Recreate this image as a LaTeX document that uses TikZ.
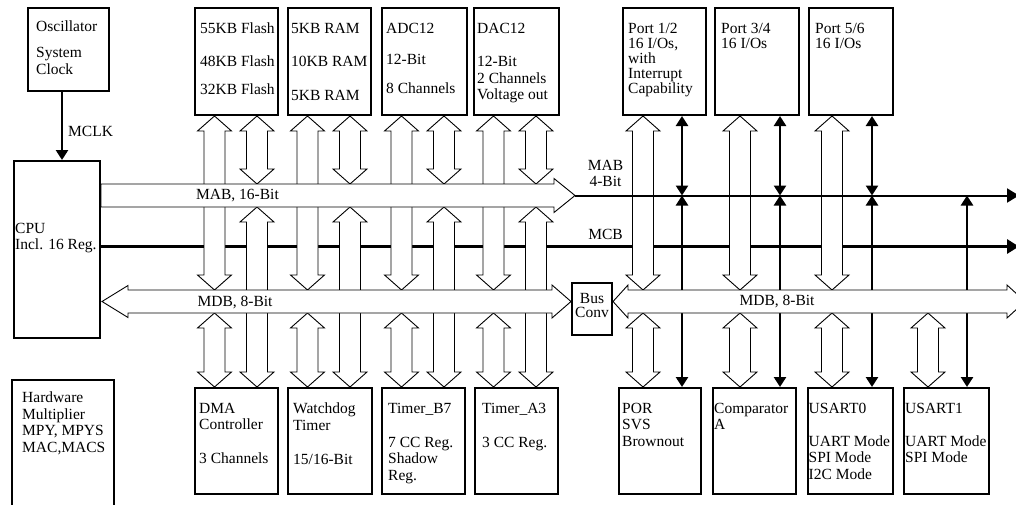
\documentclass[tikz,border=0pt]{standalone}
\usepackage{fontspec}
\setmainfont{Liberation Serif}
\usetikzlibrary{arrows.meta,calc}

% wide hollow bus arrow, heads at both ends (x from #1, y from #1 and #2)
\newcommand{\vhollow}[2]{%
  \draw[hollow] let \p1=#1, \p2=#2 in
    (\x1,\y1) -- (\x1+17pt,\y1-15pt) -- (\x1+10.5pt,\y1-15pt)
    -- (\x1+10.5pt,\y2+15pt) -- (\x1+17pt,\y2+15pt) -- (\x1,\y2)
    -- (\x1-17pt,\y2+15pt) -- (\x1-10.5pt,\y2+15pt)
    -- (\x1-10.5pt,\y1-15pt) -- (\x1-17pt,\y1-15pt) -- cycle;}

\begin{document}
\begin{tikzpicture}[x=1pt, y=-1pt]
        \tikzstyle{block} = [draw, line width=2pt, inner sep=0pt, anchor=north west]
        \tikzstyle{topbox} = [block, minimum width=83pt, minimum height=107pt]
        \tikzstyle{botbox} = [block, minimum width=83pt, minimum height=106pt]
        \tikzstyle{txt} = [anchor=north west, inner sep=0pt, align=left, font=\fontsize{15.5}{16.5}\selectfont]
        \tikzstyle{porttxt} = [txt, font=\fontsize{15.5}{15}\selectfont]
        \tikzstyle{lbl} = [inner sep=0pt, font=\fontsize{15.5}{16.5}\selectfont]
        \tikzstyle{hollow} = [draw, fill=white, line width=0.9pt, line join=miter]
        \tikzstyle{sig} = [line width=2.8pt, >={Triangle[length=10pt,width=12pt]}]

        \useasboundingbox (0,0) rectangle (1016,504);
        \clip (0,0) rectangle (1016,504);

        % blocks
        \node (osc) [block, minimum width=81pt, minimum height=83pt] at (27,7) {};
        \node (cpu) [block, minimum width=86pt, minimum height=177pt] at (13,160) {};
        \node (hw) [block, minimum width=102pt, minimum height=140pt] at (11,379) {};
        \node (flash) [topbox] at (194,7) {};
        \node (ram) [topbox] at (287,7) {};
        \node (adc) [topbox, minimum width=85pt] at (381,7) {};
        \node (dac) [topbox, minimum width=85pt] at (473,7) {};
        \node (portA) [topbox] at (622,7) {};
        \node (portB) [topbox, minimum width=84pt] at (714,7) {};
        \node (portC) [topbox, minimum width=84pt] at (808,7) {};
        \node (dma) [botbox] at (194,387) {};
        \node (wdt) [botbox, minimum width=84pt] at (287,387) {};
        \node (tb7) [botbox] at (381,387) {};
        \node (ta3) [botbox] at (474,387) {};
        \node (por) [botbox, minimum width=82pt] at (618,387) {};
        \node (comp) [botbox] at (712,387) {};
        \node (usart0) [botbox, minimum width=85pt] at (807,387) {};
        \node (usart1) [botbox, minimum width=85pt] at (903,387) {};
        \node (busconv) [block, minimum width=40pt, minimum height=52pt] at (571,282) {};

        % bus levels
        \coordinate (mabT) at (0,184);
        \coordinate (mabB) at (0,207);
        \coordinate (mab4) at (0,195.5);
        \coordinate (mcb) at (0,246.5);
        \coordinate (mdbC) at (0,301.5);
        \coordinate (mdbT) at (0,290);
        \coordinate (mdbB) at (0,313);
        \coordinate (mabTip) at (575,195.5);
        \coordinate (rimA) at (1019,195.5);
        \coordinate (rimC) at (1019,246.5);
        \coordinate (rimD) at (1025,301.5);

        \draw[sig, ->] ([xshift=-6.5pt]osc.south) -- ([xshift=-6.5pt]osc.south |- cpu.north);
        \draw[line width=3.2pt, -{Triangle[length=12pt,width=14pt]}] (cpu.east |- mcb) -- (rimC);

        % memory and peripheral buses
        \foreach \up/\dn in {flash/dma, ram/wdt, adc/tb7, dac/ta3} {
          \vhollow{([xshift=20.5pt]\up.south west)}{(mdbT)}
          \vhollow{([xshift=63pt]\up.south west)}{(mabT)}
          \vhollow{([xshift=20.5pt]\up.south west |- mdbB)}{(\dn.north)}
          \vhollow{([xshift=63pt]\up.south west |- mabB)}{(\dn.north)}
        }
        \vhollow{([xshift=21pt]portA.south west)}{(mdbT)}
        \vhollow{([xshift=26pt]portB.south west)}{(mdbT)}
        \vhollow{([xshift=24pt]portC.south west)}{(mdbT)}
        \vhollow{([xshift=21pt]portA.south west |- mdbB)}{(por.north)}
        \vhollow{([xshift=26pt]portB.south west |- mdbB)}{(comp.north)}
        \vhollow{([xshift=24pt]portC.south west |- mdbB)}{(usart0.north)}
        \vhollow{([xshift=25pt]usart1.north west |- mdbB)}{(usart1.north)}

        \draw[sig, <->] ([xshift=60pt]portA.south west) -- ([xshift=60pt]portA.south west |- mab4);
        \draw[sig, <->] ([xshift=60pt]portA.south west |- mab4) -- ([xshift=60pt]portA.south west |- por.north);
        \draw[sig, <->] ([xshift=66pt]portB.south west) -- ([xshift=66pt]portB.south west |- mab4);
        \draw[sig, <->] ([xshift=66pt]portB.south west |- mab4) -- ([xshift=66pt]portB.south west |- comp.north);
        \draw[sig, <->] ([xshift=64pt]portC.south west) -- ([xshift=64pt]portC.south west |- mab4);
        \draw[sig, <->] ([xshift=64pt]portC.south west |- mab4) -- ([xshift=64pt]portC.south west |- usart0.north);
        \draw[sig, <->] ([xshift=64pt]usart1.north west |- mab4) -- ([xshift=64pt]usart1.north west);

        \draw[line width=2pt, -{Triangle[length=12pt,width=14pt]}] (mabTip) -- (rimA);

        % MAB, MDB
        \draw[hollow] let \p1=(cpu.east), \p2=(mabTip) in
          (\x1,\y2+11.5pt) -- (\x2-21pt,\y2+11.5pt) -- (\x2-21pt,\y2+17pt) -- (\p2)
          -- (\x2-21pt,\y2-17pt) -- (\x2-21pt,\y2-11.5pt) -- (\x1,\y2-11.5pt) -- cycle;
        \draw[hollow] let \p1=(cpu.east), \p2=(busconv.west), \p3=(mdbC) in
          (\x1+1pt,\y3) -- (\x1+27pt,\y3+16pt) -- (\x1+27pt,\y3+11.5pt)
          -- (\x2-19pt,\y3+11.5pt) -- (\x2-19pt,\y3+16.5pt) -- (\x2,\y3)
          -- (\x2-19pt,\y3-16.5pt) -- (\x2-19pt,\y3-11.5pt)
          -- (\x1+27pt,\y3-11.5pt) -- (\x1+27pt,\y3-16pt) -- cycle;
        \draw[hollow] let \p1=(busconv.east), \p2=(rimD), \p3=(mdbC) in
          (\x1,\y3) -- (\x1+15pt,\y3+16.5pt) -- (\x1+15pt,\y3+11.5pt)
          -- (\x2-18pt,\y3+11.5pt) -- (\x2-18pt,\y3+16.5pt) -- (\x2,\y3)
          -- (\x2-18pt,\y3-16.5pt) -- (\x2-18pt,\y3-11.5pt)
          -- (\x1+15pt,\y3-11.5pt) -- (\x1+15pt,\y3-16.5pt) -- cycle;

        % bus labels
        \node (mclkLbl) [lbl, anchor=base west] at (68,136) {MCLK};
        \node (mabLbl) [lbl, anchor=base] at (237.5,199.5) {MAB, 16-Bit};
        \node (mdbLbl) [lbl, anchor=base] at (235,306) {MDB, 8-Bit};
        \node (mdbLblR) [lbl, anchor=base] at (777,305.5) {MDB, 8-Bit};
        \node (mab4Lbl) [lbl, anchor=north, align=center] at (605.5,160) {MAB\\4-Bit};
        \node (mcbLbl) [lbl, anchor=base] at (605.5,239.5) {MCB};
        \node (convLbl) [lbl, anchor=north, align=center, font=\fontsize{15.5}{14}\selectfont] at ([yshift=-11pt]busconv.north) {Bus\\Conv};

        % block texts
        \node (oscTxt) [txt] at ([shift={(9,13.7)}]osc.north west) {Oscillator\\[9.5pt]System\\Clock};
        \node (cpuTxt) [txt] at ([shift={(2,63)}]cpu.north west) {CPU\\Incl. 16 Reg.};
        \node (hwTxt) [txt] at ([shift={(11,12.7)}]hw.north west) {Hardware\\Multiplier\\MPY, MPYS\\MAC,MACS};
        \node (flashTxt) [txt] at ([shift={(6,15.7)}]flash.north west) {55KB Flash\\[15.9pt]48KB Flash\\[11.8pt]32KB Flash};
        \node (ramTxt) [txt] at ([shift={(4,15.7)}]ram.north west) {5KB RAM\\[17.2pt]10KB RAM\\[17.2pt]5KB RAM};
        \node (adcTxt) [txt] at ([shift={(5,15.7)}]adc.north west) {ADC12\\[15.2pt]12-Bit\\[12.5pt]8 Channels};
        \node (dacTxt) [txt] at ([shift={(4,15.7)}]dac.north west) {DAC12\\[17pt]12-Bit\\2 Channels\\Voltage out};
        \node (portATxt) [porttxt] at ([shift={(6,16)}]portA.north west) {Port 1/2\\16 I/Os,\\with\\Interrupt\\Capability};
        \node (portBTxt) [porttxt] at ([shift={(7,16)}]portB.north west) {Port 3/4\\16 I/Os};
        \node (portCTxt) [porttxt] at ([shift={(7,16)}]portC.north west) {Port 5/6\\16 I/Os};
        \node (dmaTxt) [txt] at ([shift={(5,15.7)}]dma.north west) {DMA\\Controller\\[17.5pt]3 Channels};
        \node (wdtTxt) [txt] at ([shift={(6,15.7)}]wdt.north west) {Watchdog\\Timer\\[17.5pt]15/16-Bit};
        \node (tb7Txt) [txt] at ([shift={(7,15.7)}]tb7.north west) {Timer\_B7\\[17.5pt]7 CC Reg.\\Shadow\\Reg.};
        \node (ta3Txt) [txt] at ([shift={(8,15.7)}]ta3.north west) {Timer\_A3\\[17.5pt]3 CC Reg.};
        \node (porTxt) [txt] at ([shift={(4,15.7)}]por.north west) {POR\\SVS\\Brownout};
        \node (compTxt) [txt] at ([shift={(2,15.7)}]comp.north west) {Comparator\\A};
        \node (usart0Txt) [txt] at ([shift={(1.5,15.7)}]usart0.north west) {USART0\\[16.5pt]UART Mode\\SPI Mode\\I2C Mode};
        \node (usart1Txt) [txt] at ([shift={(2,15.7)}]usart1.north west) {USART1\\[16.5pt]UART Mode\\SPI Mode};
\end{tikzpicture}
\end{document}
